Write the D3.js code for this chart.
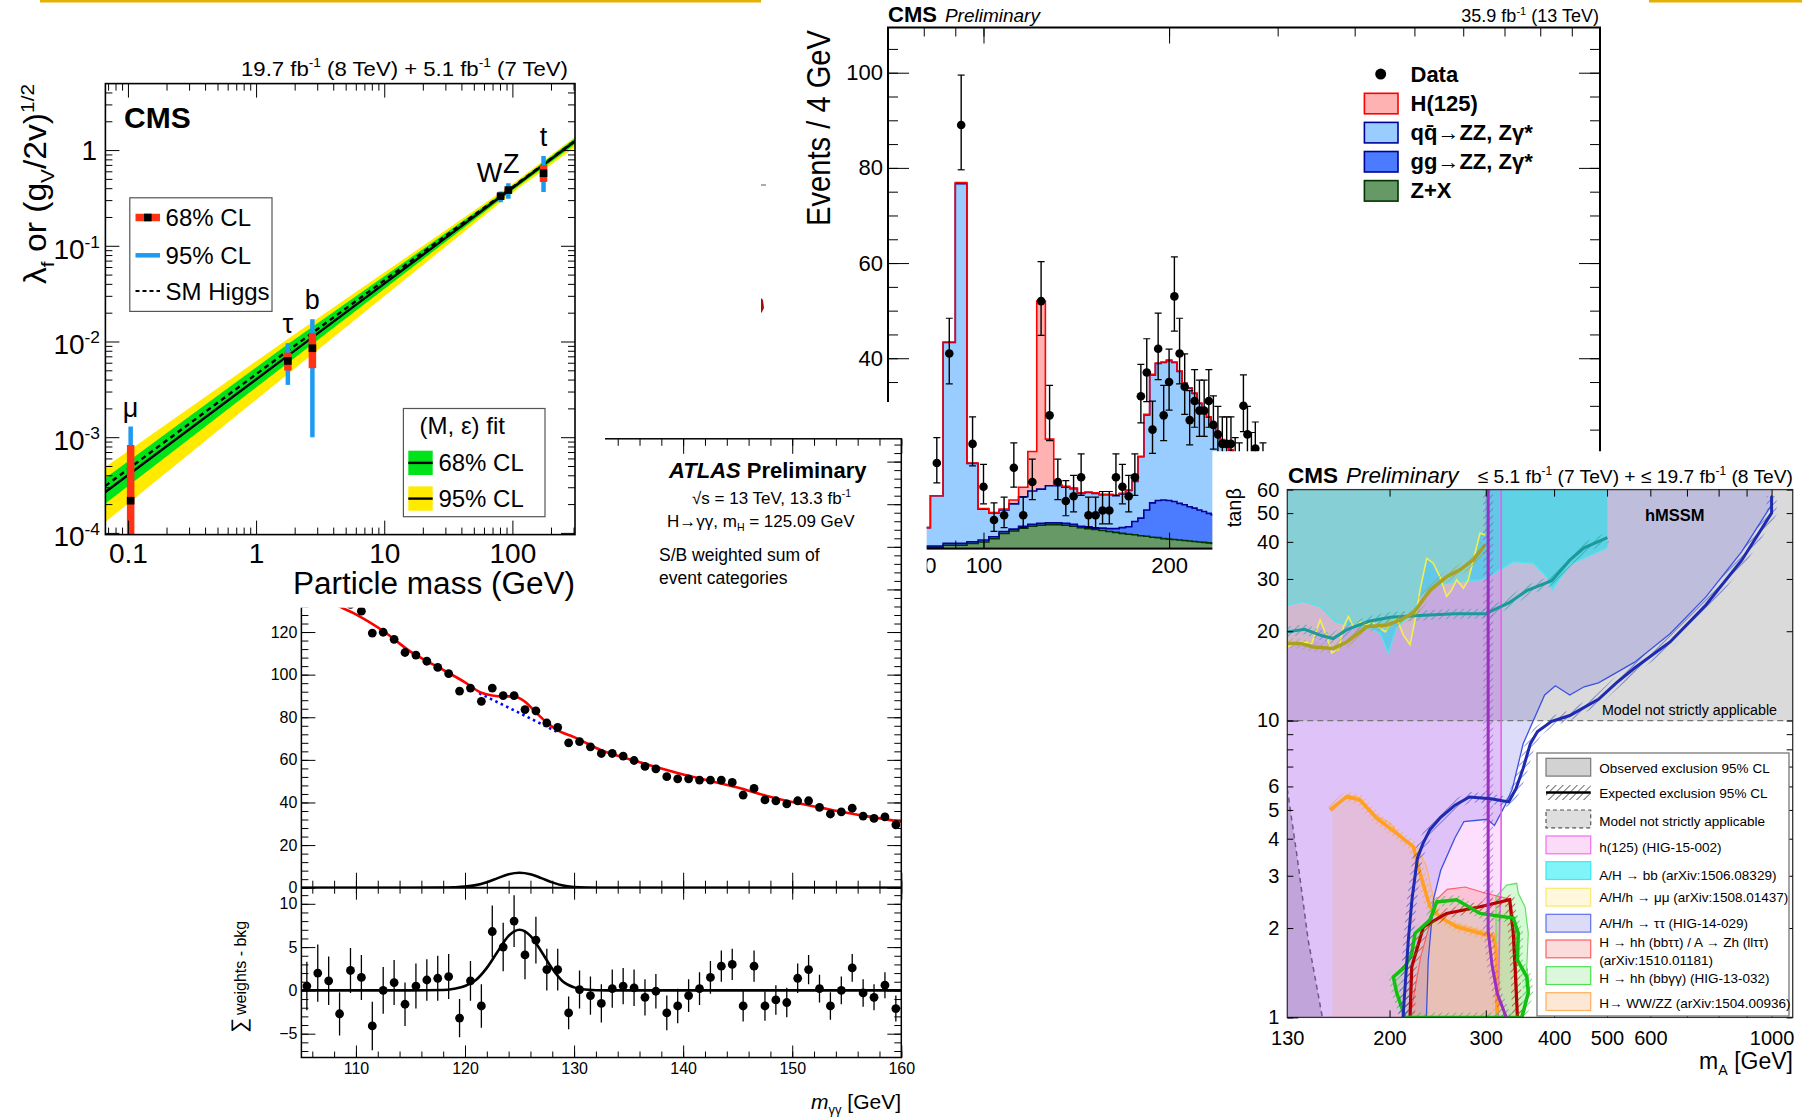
<!DOCTYPE html>
<html>
<head>
<meta charset="utf-8">
<script src="https://cdn.jsdelivr.net/npm/d3@7"></script>
<style>
body { margin: 0; background: #fff; }
text { font-family: "Liberation Sans", Arial, sans-serif; fill: #000; }
.narrow text { font-family: "Liberation Sans Narrow", "Liberation Sans", Arial, sans-serif; }
</style>
</head>
<body>
<svg id="chart" width="1802" height="1118"></svg>
<script>
// ---------- coupling vs particle mass (CMS 7+8 TeV) ----------
var cplName = ["μ", "τ", "b", "W", "Z", "t"];
var cplMass = [0.105, 1.77, 2.75, 80.9, 93, 175];
var cplVal = [2.17e-4, 6.26e-3, 8.5e-3, 0.330, 0.382, 0.572];
var cplLo68 = [9e-5, 4.97e-3, 5.26e-3, 0.315, 0.365, 0.465];
var cplHi68 = [8.3e-4, 7.65e-3, 1.22e-2, 0.345, 0.40, 0.697];
var cplLo95 = [8e-5, 3.52e-3, 9.98e-4, 0.285, 0.31, 0.365];
var cplHi95 = [1.29e-3, 9.6e-3, 1.71e-2, 0.37, 0.45, 0.866];
var bandMass = [0.0667, 1.73, 100, 308];
var fitLine = [2.68e-4, 6.95e-3, 0.402, 1.237];
var smLine = [3.1e-4, 7.83e-3, 0.41, 1.25];
var band95lo = [1.30e-4, 4.46e-3, 0.358, 1.07];
var band95hi = [4.89e-4, 1.04e-2, 0.441, 1.37];
var band68lo = [2.03e-4, 5.82e-3, 0.379, 1.154];
var band68hi = [3.75e-4, 9.18e-3, 0.421, 1.326];

// ---------- four-lepton mass (CMS 13 TeV) ----------
var zzEdges = [70,74,78,82,86,90,94,98,102,106,110,114,118,122,126,130,134,138,142,146,150,154,158,162,166,170,174,178,182,186,190,194,198,202,206,210,214,218,222,226,230,234,238,242,246,250,254,258];
var zzZX = [0.2,0.2,0.3,0.3,0.7,0.7,1.1,1.4,2.1,3.2,3.7,4.3,4.7,4.9,5.0,5.0,4.9,4.7,4.4,4.2,4.0,3.8,3.6,3.4,3.2,3.0,2.9,2.7,2.6,2.4,2.3,2.1,2.0,1.9,1.8,1.7,1.6,1.5,1.4,1.3,1.2,1.1,1.0,1.0,0.9,0.9,0.8];
var zzGG = [0.2,0.2,0.25,0.25,0.4,0.4,0.35,0.4,0.4,0.4,0.4,0.4,0.4,0.4,0.4,0.4,0.4,0.4,0.3,0.4,0.3,0.5,0.6,0.8,1.2,1.6,2.8,3.7,5.5,7.2,7.8,8.1,8.1,8.0,7.7,7.5,7.2,7.0,6.7,6.5,6.2,6.0,5.8,5.5,5.3,5.0,4.8];
var zzQQ = [2.6,3.2,3.85,10.55,42.2,75.6,16.45,6.5,5.0,4.5,5.3,6.2,7.0,7.2,7.8,7.8,7.6,7.5,6.9,7.2,7.3,7.0,7.1,6.9,7.1,7.6,8.4,12.9,20.0,26.9,28.8,28.9,29.4,29.2,27.7,25.5,24.9,24.1,22.4,21.3,20.2,18.5,17.3,16.3,15.6,14.8,14.2];
var zzH = [0,0,0,0,0.1,0.2,0.1,0.1,0.1,0.2,0.8,2.0,8.3,39.5,9.8,0.2,0.2,0.1,0.1,0.1,0.1,0.1,0.1,0.1,0.1,0.1,0.1,0.1,0.1,0.1,0.1,0.1,0.1,0.1,0.1,0.1,0.1,0.1,0.1,0.1,0.1,0.1,0.1,0.1,0.1,0.1,0.1];
var zzMass = [84,88,92,96,100,104,108,112,116,120,124,128,132,136,140,144,148,152,156,160,164,168,172,176,180,184,188,192,196,200,204,208,212,216,220,224,228,232,236,240,244,248,252,256,260,264,268,272,276,284];
var zzCount = [18,41,89,22,13,6,7,17,7,14,52,28,14,10,11,15,7,7,8,8,15,13,11,15,32,37,25,42,28,35,53,41,34,27,31,29,29,31,26,24,22,22,22,18,17,30,24,19,21,17];
var zzErrDn = [4.2,6.4,9.4,4.6,3.6,2.4,2.6,4.1,2.6,3.7,7.2,5.3,3.7,3.1,3.3,3.8,2.6,2.6,2.8,2.8,3.8,3.6,3.3,3.8,5.6,6.1,5.0,6.5,5.3,5.9,7.3,6.4,5.8,5.2,5.5,5.4,5.4,5.5,5.1,4.9,4.7,4.7,4.7,4.2,4.1,5.4,4.9,4.3,4.6,4.1];
var zzErrUp = [5.3,7.4,10.5,5.7,4.7,3.6,3.8,5.2,3.8,4.8,8.3,6.3,4.8,4.3,4.4,4.9,3.8,3.8,4.0,4.0,4.9,4.7,4.4,4.9,6.7,7.1,6.0,7.5,6.3,6.9,8.3,7.4,6.9,6.2,6.6,6.4,6.4,6.6,6.1,5.9,5.7,5.7,5.7,5.3,5.2,6.5,5.9,5.4,5.6,5.2];
var zzLegend = ["Data", "H(125)", "qq\u0304\u2192ZZ, Zγ*", "gg\u2192ZZ, Zγ*", "Z+X"];

// ---------- diphoton mass (ATLAS 13 TeV) ----------
var aMass = [105.5,106.5,107.5,108.5,109.5,110.5,111.5,112.5,113.5,114.5,115.5,116.5,117.5,118.5,119.5,120.5,121.5,122.5,123.5,124.5,125.5,126.5,127.5,128.5,129.5,130.5,131.5,132.5,133.5,134.5,135.5,136.5,137.5,138.5,139.5,140.5,141.5,142.5,143.5,144.5,145.5,146.5,147.5,148.5,149.5,150.5,151.5,152.5,153.5,154.5,155.5,156.5,157.5,158.5,159.5];
var aWeighted = [152,146,141,137,133,129.8,119.5,119.9,116.6,110.4,109.2,106.3,103.4,100.5,92.3,93.7,87.5,93.7,90.2,90.2,83.6,83.0,77.3,75.2,68.0,68.6,66.1,63.0,63.0,61.8,59.7,56.9,55.8,52.1,51.1,51.1,50.5,50.5,50.5,49.4,43.5,46.6,41.2,40.8,39.3,40.8,40.8,37.7,34.6,35.6,37.3,33.6,32.5,33.2,29.5];
var aResid = [0.5,2.0,1.1,-2.7,2.3,1.5,-4.1,0,0.9,-1.6,0.5,1.2,1.4,1.6,-3.2,1.1,-1.8,6.8,5.0,8.0,4.1,5.8,2.4,2.4,-2.6,0.1,-0.6,-1.5,0.2,0.5,0.3,-0.8,-0.1,-2.6,-1.8,-0.6,0.2,1.5,2.8,3.0,-1.8,2.8,-1.8,-1.1,-1.4,1.4,2.4,0.2,-1.8,0,2.6,-0.3,-0.8,0.6,-2.1];
var aResidErr = [2.8,3.3,2.8,2.5,2.6,2.6,2.8,2.7,2.6,2.5,2.6,2.4,2.6,2.6,2.2,2.3,2.5,3.0,2.8,3.0,2.8,2.7,2.4,2.4,1.9,2.2,2.2,2.2,2.2,2.1,2.1,2.1,2.0,2.0,2.0,1.9,1.9,1.9,1.8,1.8,1.8,1.8,1.7,1.7,1.7,1.7,1.7,1.6,1.6,1.6,1.6,1.6,1.5,1.5,1.5];
var aFit = [[105,149],[108,133.5],[110,128.3],[112.5,120.5],[115,110.8],[117.5,103.6],[120,96.4],[121.5,91.5],[122.5,90.2],[123.5,89.8],[124.5,89.8],[125.5,87.3],[126.5,82.3],[127.5,77.5],[128.5,73.8],[130,70.7],[132.5,64.5],[135,60.4],[137.5,56.7],[140,53.1],[142.5,50.1],[145,47.0],[147.5,43.3],[150,40.2],[152.5,37.7],[155,35.2],[157.5,33.0],[160,30.9]];
var aBkg = [[121.3,91.3],[125,82],[128.6,72.7]];
var aSignal = [[105,0],[115,0],[118,0.05],[119,0.2],[120,0.5],[121,1.2],[122,2.6],[123,4.5],[124,6.3],[125,7.0],[126,6.3],[127,4.5],[128,2.5],[129,1.0],[130,0.35],[131,0.1],[133,0],[160,0]];

// ---------- hMSSM exclusion (CMS 7+8 TeV) ----------
var hLowLeft = [[130,1],[130,5.89],[135.6,3.44],[141.9,1.83],[150.7,1]];
var ttObs = [[233.6,1],[235.4,1.56],[240.8,2.51],[248.1,3.13],[263.5,4.03],[273.6,4.57],[301.9,4.65],[311.1,4.43],[325.5,5.19],[335.5,5.89],[351.1,8.35],[367.4,10.1],[384.4,12.2],[402.2,13.1],[427.3,12.2],[453.8,13.0],[482.2,13.4],[520,14.5],[560.7,15.7],[652,19.6],[758.3,26.1],[881.9,37.1],[1000,53.3],[1000,57.5]];
var ttExp = [[211.7,1],[213.9,1.33],[216.5,1.83],[219.9,2.51],[224.9,3.44],[230.1,3.84],[237.1,4.29],[248.1,4.72],[263.5,5.19],[279.9,5.53],[306.5,5.45],[330.4,5.32],[340.6,5.89],[351.1,6.9],[361.9,8.35],[373,9.18],[396.1,9.94],[427.3,10.4],[482.2,11.8],[520,13.4],[560.7,15.0],[652,18.4],[758.3,24.5],[881.9,34.7],[1000,50.0],[1000,57]];
var h125Obs = [[320,60],[320,3],[318,2],[316,1]];
var h125Exp = [[303,60],[303,1.95],[308,1.5],[315,1.2],[327,1]];
var bbObs = [[130,24.5],[139.1,25.2],[149.3,24.2],[159.3,21.5],[167,21.0],[184.2,20.5],[192.2,19.7],[198.9,16.9],[206.1,20.7],[218,22.4],[227.4,26.2],[240.4,28.3],[261.7,29.4],[292.8,29.8],[303.2,30.5],[336.8,34.3],[366.4,33.9],[387.8,30.5],[397,27.6],[427.3,33.6],[500.6,38.2],[500.6,60]];
var bbExp = [[130,19.9],[139.8,20.3],[150.7,19.3],[157.7,18.9],[167.6,20.3],[183.4,21.6],[200.8,22.3],[226.6,22.6],[263.5,22.9],[299.6,22.9],[330.4,24.9],[356.5,27.4],[396.1,29.6],[427.3,34.7],[453.8,38.2],[500.6,41.3]];
var mmObs = [[130,17.7],[134.3,18.2],[139.1,18.4],[144.1,18.2],[149.3,21.8],[153.5,19.2],[156.8,16.9],[161.3,17.3],[164.7,20.7],[168.2,22.4],[171.7,20.7],[176.6,21.5],[181.6,21.0],[185.5,21.5],[190.7,20.7],[196.3,19.9],[201.8,21.3],[206.1,22.1],[212,19.4],[218,18.0],[222.7,21.8],[227.4,27.5],[233.9,35.2],[240.4,33.9],[247.3,30.5],[254.3,26.2],[259.7,27.5],[265.3,29.8],[272.9,27.9],[278.7,29.8],[284.7,34.8],[292.8,42.8],[299,42.2]];
var mmExp = [[130,18.2],[137.1,18.2],[145.1,17.7],[157.8,17.5],[167,18.4],[181.6,20.7],[197.9,21.0],[208.7,21.8],[221.1,23.0],[237.1,27.5],[254.3,30.5],[269,32.2],[284.7,34.8],[299,39.1]];
var wwObs = [[157.2,1],[157.2,5.03],[167.6,5.62],[175.3,5.53],[189.1,4.80],[200.8,4.50],[213.3,3.90],[224.9,3.72],[233.6,3.23],[242.6,2.35],[248.1,2.14],[271.6,2.04],[297.3,1.95],[311.1,1.91],[316.8,1.51],[318.3,1]];
var wwExp = [[155.6,5.0],[167,5.54],[176.6,5.40],[189.4,4.69],[206.1,4.17],[221.1,3.76],[227.4,3.06],[237.1,2.36],[247.3,2.18],[265.3,2.02],[292.8,1.92],[309.6,1.87],[313.2,1.69],[315,1.03]];
var hhObs = [[218,1],[228,1.6],[244,2.5],[255,2.7],[275,2.75],[300,2.62],[332,2.5],[340,2.0],[343,1]];
var hhExp = [[218,1.0],[219.6,1.48],[230.7,2.02],[254.3,2.24],[292.8,2.36],[331.8,2.49],[336.8,1.92],[339.3,1.48],[342.8,1.0]];
var aaObs = [[313.2,1],[313.2,2.55],[327.6,2.79],[341.8,2.83],[344,2.62],[353.9,2.36],[358.8,1.92],[356.5,1.48],[360.4,1.24],[351.3,1]];
var aaExp = [[213.5,1],[206.1,1.21],[203.2,1.37],[213.5,1.48],[219.6,1.64],[222.7,1.92],[237.1,2.13],[243.9,2.45],[265.3,2.49],[292.8,2.24],[336.8,2.16],[344,1.92],[342.8,1.56],[356.5,1.37],[358.8,1.21],[349,1]];
var hLegend = ["Observed exclusion 95% CL", "Expected exclusion 95% CL", "Model not strictly applicable",
  "h(125) (HIG-15-002)", "A/H \u2192 bb (arXiv:1506.08329)", "A/H/h \u2192 μμ (arXiv:1508.01437)",
  "A/H/h \u2192 ττ  (HIG-14-029)", "H \u2192 hh (bbττ) / A \u2192 Zh (llττ)", "H \u2192 hh (bbγγ) (HIG-13-032)",
  "H\u2192 WW/ZZ (arXiv:1504.00936)"];

var svg = d3.select("#chart");
var defs = svg.append("defs");

function axisTicks(g, scale, orient, pos, values, len, fmt, size, pad) {
  var make = {bottom: d3.axisBottom, top: d3.axisTop, left: d3.axisLeft, right: d3.axisRight}[orient];
  var axis = make(scale).tickValues(values).tickSizeInner(-len).tickSizeOuter(0)
      .tickPadding(pad == null ? 6 : pad)
      .tickFormat(fmt || function() { return ""; });
  var horiz = orient == "bottom" || orient == "top";
  var a = g.append("g")
      .attr("transform", horiz ? "translate(0," + pos + ")" : "translate(" + pos + ",0)")
      .call(axis)
      .attr("font-family", null).attr("font-size", null);
  a.select(".domain").remove();
  a.selectAll(".tick line").attr("stroke", "#000");
  a.selectAll(".tick text").attr("font-size", size || 12).attr("fill", "#000");
  if (!fmt) a.selectAll(".tick text").remove();
  return a;
}

function rich(g, x, y, parts, size, anchor) {
  var t = g.append("text").attr("x", x).attr("y", y).attr("font-size", size)
      .attr("text-anchor", anchor || "start");
  var shift = 0;
  parts.forEach(function(p) {
    var s = typeof p == "string" ? {t: p} : p;
    var target = s.sup ? -0.4 * size : s.sub ? 0.25 * size : 0;
    var ts = t.append("tspan").text(s.t).attr("dy", target - shift);
    if (s.sup || s.sub) ts.attr("font-size", size * 0.62);
    if (s.b) ts.attr("font-weight", "bold");
    if (s.i) ts.attr("font-style", "italic");
    shift = target;
  });
  return t;
}

// ================= four-lepton panel =================
defs.append("clipPath").attr("id", "clip4l").append("path")
    .attr("d", "M740,0H1612V451.5H1212.6V590H926.7V402H740Z");
var p2 = svg.append("g").attr("class", "narrow").attr("clip-path", "url(#clip4l)");
var zx = d3.scaleLog().domain([70, 1000]).range([888, 1600]);
var zy = d3.scaleLinear().domain([0, 109.5]).range([548.6, 27.5]);

var rows = zzEdges.map(function(e, i) {
  var j = Math.min(i, zzZX.length - 1);
  return {lo: e, zx: zzZX[j], gg: zzGG[j], qq: zzQQ[j], h: zzH[j]};
});
var layers = d3.stack().keys(["zx", "gg", "qq", "h"])(rows);
var zzFill = {zx: "#669966", gg: "#4b7bff", qq: "#99ccff", h: "#ffb2b2"};
var zzLine = {zx: "#003300", gg: "#000099", qq: "#000099", h: "#ff0000"};
layers.forEach(function(L) {
  p2.append("path").datum(L)
    .attr("fill", zzFill[L.key])
    .attr("d", d3.area().curve(d3.curveStepAfter)
      .x(function(d) { return zx(d.data.lo); })
      .y0(function(d) { return zy(d[0]); })
      .y1(function(d) { return zy(d[1]); }));
});
layers.forEach(function(L) {
  p2.append("path").datum(L)
    .attr("fill", "none").attr("stroke", zzLine[L.key]).attr("stroke-width", 1.6)
    .attr("d", d3.line().curve(d3.curveStepAfter)
      .x(function(d) { return zx(d.data.lo); })
      .y(function(d) { return zy(d[1]); }));
});

// data points
zzMass.forEach(function(m, i) {
  var x = zx(m);
  var y1 = zy(zzCount[i] + zzErrUp[i]), y0 = zy(zzCount[i] - zzErrDn[i]);
  p2.append("line").attr("x1", x).attr("x2", x).attr("y1", y1).attr("y2", y0)
    .attr("stroke", "#000").attr("stroke-width", 1.4);
  p2.append("line").attr("x1", x - 3.5).attr("x2", x + 3.5).attr("y1", y1).attr("y2", y1)
    .attr("stroke", "#000").attr("stroke-width", 1.2);
  p2.append("line").attr("x1", x - 3.5).attr("x2", x + 3.5).attr("y1", y0).attr("y2", y0)
    .attr("stroke", "#000").attr("stroke-width", 1.2);
  p2.append("circle").attr("cx", x).attr("cy", zy(zzCount[i])).attr("r", 4.3).attr("fill", "#000");
});

p2.append("rect").attr("x", 888).attr("y", 27.5).attr("width", 712).attr("height", 521.1)
  .attr("fill", "none").attr("stroke", "#000").attr("stroke-width", 2);
var zMajor = [0, 20, 40, 60, 80, 100];
var zMinor = d3.range(0, 110, 5);
axisTicks(p2, zy, "left", 888, zMinor, 10);
axisTicks(p2, zy, "right", 1600, zMinor, 10);
axisTicks(p2, zy, "left", 888, zMajor, 21);
axisTicks(p2, zy, "left", 888, [40, 60, 80, 100], 0, function(d) { return d; }, 22, 5);
axisTicks(p2, zy, "right", 1600, zMajor, 21);
var zxAll = zx.ticks();
axisTicks(p2, zx, "top", 27.5, zxAll, 9);
axisTicks(p2, zx, "bottom", 548.6, zxAll, 8);
axisTicks(p2, zx, "top", 27.5, [100, 200], 16);
axisTicks(p2, zx, "bottom", 548.6, [100, 200], 16);
axisTicks(p2, zx, "bottom", 548.6, [80, 100, 200], 0, function(d) { return d; }, 22, 9);

// legend
p2.append("circle").attr("cx", 1380.7).attr("cy", 74.1).attr("r", 5.5).attr("fill", "#000");
var legKeys = ["h", "qq", "gg", "zx"];
legKeys.forEach(function(k, i) {
  p2.append("rect").attr("x", 1364.4).attr("y", 93.3 + i * 29.1).attr("width", 33.6).attr("height", 20.5)
    .attr("fill", zzFill[k]).attr("stroke", zzLine[k]).attr("stroke-width", 1.6);
});
zzLegend.forEach(function(s, i) {
  p2.append("text").attr("x", 1410.5).attr("y", 81.5 + i * 29.1).attr("font-size", 22)
    .attr("font-weight", "bold").text(s);
});
p2.append("text").attr("transform", "translate(830,30) rotate(-90)").attr("text-anchor", "end")
  .attr("font-size", 33).attr("textLength", 196).attr("lengthAdjust", "spacingAndGlyphs").text("Events / 4 GeV");
var t4 = p2.append("text").attr("x", 888).attr("y", 21.8).attr("font-size", 22);
t4.append("tspan").attr("font-weight", "bold").text("CMS");
t4.append("tspan").attr("font-style", "italic").attr("dx", 8).attr("font-size", 19).text("Preliminary");
rich(p2, 1599, 21.8, ["35.9 fb", {t: "-1", sup: true}, " (13 TeV)"], 18, "end");

// ================= ATLAS diphoton panel =================
var p3 = svg.append("g");
p3.append("rect").attr("x", 200).attr("y", 432).attr("width", 712).attr("height", 686).attr("fill", "#fff");
var ax = d3.scaleLinear().domain([105, 160]).range([301.4, 901.3]);
var ayT = d3.scaleLinear().domain([0, 210.7]).range([887.7, 438.8]);
var ayB = d3.scaleLinear().domain([-7.75, 11.86]).range([1057.5, 887.7]);
defs.append("clipPath").attr("id", "clipAtop").append("rect")
  .attr("x", 301.4).attr("y", 438.8).attr("width", 599.9).attr("height", 448.9);
defs.append("clipPath").attr("id", "clipAbot").append("rect")
  .attr("x", 301.4).attr("y", 887.7).attr("width", 599.9).attr("height", 169.8);

var topG = p3.append("g").attr("clip-path", "url(#clipAtop)");
var botG = p3.append("g").attr("clip-path", "url(#clipAbot)");
topG.append("path").datum(aBkg).attr("fill", "none").attr("stroke", "#0000ff").attr("stroke-width", 2.6)
  .attr("stroke-dasharray", "2.5,3.5")
  .attr("d", d3.line().x(function(d) { return ax(d[0]); }).y(function(d) { return ayT(d[1]); }));
topG.append("path").datum(aFit).attr("fill", "none").attr("stroke", "#ff0000").attr("stroke-width", 2.6)
  .attr("d", d3.line().curve(d3.curveMonotoneX).x(function(d) { return ax(d[0]); }).y(function(d) { return ayT(d[1]); }));
topG.append("path").datum(aSignal).attr("fill", "none").attr("stroke", "#000").attr("stroke-width", 2.6)
  .attr("d", d3.line().curve(d3.curveMonotoneX).x(function(d) { return ax(d[0]); }).y(function(d) { return ayT(d[1]); }));
aMass.forEach(function(m, i) {
  topG.append("circle").attr("cx", ax(m)).attr("cy", ayT(aWeighted[i])).attr("r", 4.4).attr("fill", "#000");
});
botG.append("path").datum(aSignal).attr("fill", "none").attr("stroke", "#000").attr("stroke-width", 2.6)
  .attr("d", d3.line().curve(d3.curveMonotoneX).x(function(d) { return ax(d[0]); }).y(function(d) { return ayB(d[1]); }));
aMass.forEach(function(m, i) {
  botG.append("line").attr("x1", ax(m)).attr("x2", ax(m))
    .attr("y1", ayB(aResid[i] + aResidErr[i])).attr("y2", ayB(aResid[i] - aResidErr[i]))
    .attr("stroke", "#000").attr("stroke-width", 1.3);
  botG.append("circle").attr("cx", ax(m)).attr("cy", ayB(aResid[i])).attr("r", 4.4).attr("fill", "#000");
});

p3.append("rect").attr("x", 301.4).attr("y", 438.8).attr("width", 599.9).attr("height", 618.7)
  .attr("fill", "none").attr("stroke", "#000").attr("stroke-width", 1.5);
p3.append("line").attr("x1", 301.4).attr("x2", 901.3).attr("y1", 887.7).attr("y2", 887.7)
  .attr("stroke", "#000").attr("stroke-width", 2);
var axMinor = d3.range(106, 161, 2), axMajor = [110, 120, 130, 140, 150, 160];
axisTicks(p3, ax, "top", 438.8, axMinor, 7);
axisTicks(p3, ax, "top", 438.8, axMajor, 15);
axisTicks(p3, ax, "bottom", 887.7, axMinor, 7);
axisTicks(p3, ax, "bottom", 887.7, axMajor, 15);
axisTicks(p3, ax, "top", 887.7, axMinor, 6);
axisTicks(p3, ax, "top", 887.7, axMajor, 12);
axisTicks(p3, ax, "bottom", 1057.5, axMinor, 6);
axisTicks(p3, ax, "bottom", 1057.5, axMajor, 12, function(d) { return d; }, 16, 5);
var ayTMinor = d3.range(0, 211, 4), ayTMajor = d3.range(0, 201, 20);
axisTicks(p3, ayT, "left", 301.4, ayTMinor, 7);
axisTicks(p3, ayT, "left", 301.4, ayTMajor, 14);
axisTicks(p3, ayT, "left", 301.4, [0, 20, 40, 60, 80, 100, 120], 0, function(d) { return d; }, 16, 4);
axisTicks(p3, ayT, "right", 901.3, ayTMinor, 7);
axisTicks(p3, ayT, "right", 901.3, ayTMajor, 14);
var ayBMinor = d3.range(-7, 12, 1), ayBMajor = [-5, 0, 5, 10];
axisTicks(p3, ayB, "left", 301.4, ayBMinor, 7);
axisTicks(p3, ayB, "left", 301.4, ayBMajor, 14, function(d) { return d < 0 ? "\u2212" + (-d) : d; }, 16, 4);
axisTicks(p3, ayB, "right", 901.3, ayBMinor, 7);
axisTicks(p3, ayB, "right", 901.3, ayBMajor, 14);

var at = p3.append("text").attr("x", 669).attr("y", 478).attr("font-size", 22).attr("font-weight", "bold");
at.append("tspan").attr("font-style", "italic").text("ATLAS");
at.append("tspan").attr("dx", 6).text("Preliminary");
rich(p3, 692, 504, ["\u221As = 13 TeV, 13.3 fb", {t: "-1", sup: true}], 17);
rich(p3, 667, 527, ["H\u2192γγ, m", {t: "H", sub: true}, " = 125.09 GeV"], 17);
p3.append("text").attr("x", 659).attr("y", 561).attr("font-size", 17.5).text("S/B weighted sum of");
p3.append("text").attr("x", 659).attr("y", 584).attr("font-size", 17.5).text("event categories");
rich(p3, 901, 1109, [{t: "m", i: true}, {t: "γγ", sub: true}, " [GeV]"], 21, "end");
var ylab = p3.append("text").attr("transform", "translate(246,1033) rotate(-90)").attr("font-size", 16);
ylab.append("tspan").attr("font-size", 21).text("\u2211");
ylab.append("tspan").attr("dx", 3).text("weights - bkg");

// ================= coupling panel =================
var p1 = svg.append("g");
p1.append("rect").attr("x", 0).attr("y", 0).attr("width", 605).attr("height", 607.7).attr("fill", "#fff");
var cx = d3.scaleLog().domain([0.0667, 308]).range([105.4, 575]);
var cy = d3.scaleLog().domain([9.6e-5, 4.95]).range([534.6, 83.6]);
defs.append("clipPath").attr("id", "clipCpl").append("rect")
  .attr("x", 105.4).attr("y", 83.6).attr("width", 469.6).attr("height", 451);
var cg = p1.append("g").attr("clip-path", "url(#clipCpl)");
var bandRows = bandMass.map(function(m, i) {
  return {m: m, lo95: band95lo[i], hi95: band95hi[i], lo68: band68lo[i], hi68: band68hi[i], fit: fitLine[i], sm: smLine[i]};
});
function bandArea(lo, hi) {
  return d3.area().x(function(d) { return cx(d.m); })
    .y0(function(d) { return cy(d[lo]); }).y1(function(d) { return cy(d[hi]); });
}
cg.append("path").datum(bandRows).attr("fill", "#ffea00").attr("d", bandArea("lo95", "hi95"));
cg.append("path").datum(bandRows).attr("fill", "#00e31a").attr("d", bandArea("lo68", "hi68"));
cg.append("path").datum(bandRows).attr("fill", "none").attr("stroke", "#000").attr("stroke-width", 2.4)
  .attr("d", d3.line().x(function(d) { return cx(d.m); }).y(function(d) { return cy(d.fit); }));
cg.append("path").datum(bandRows).attr("fill", "none").attr("stroke", "#000").attr("stroke-width", 2.4)
  .attr("stroke-dasharray", "5,4")
  .attr("d", d3.line().x(function(d) { return cx(d.m); }).y(function(d) { return cy(d.sm); }));
cplMass.forEach(function(m, i) {
  var x = cx(m);
  cg.append("line").attr("x1", x).attr("x2", x).attr("y1", cy(cplLo95[i])).attr("y2", cy(cplHi95[i]))
    .attr("stroke", "#1e9bf0").attr("stroke-width", 4.5);
  cg.append("line").attr("x1", x).attr("x2", x).attr("y1", cy(cplLo68[i])).attr("y2", cy(cplHi68[i]))
    .attr("stroke", "#ff3215").attr("stroke-width", 7.5);
  cg.append("rect").attr("x", x - 3.8).attr("y", cy(cplVal[i]) - 3.8).attr("width", 7.6).attr("height", 7.6).attr("fill", "#000");
  var lx = cplName[i] == "W" ? x - 11 : cplName[i] == "Z" ? x + 3 : x;
  var ly = cy(cplHi95[i]) - (cplName[i] == "W" ? 9 : 10);
  p1.append("text").attr("x", lx).attr("y", ly).attr("text-anchor", "middle").attr("font-size", 27).text(cplName[i]);
});
p1.append("rect").attr("x", 105.4).attr("y", 83.6).attr("width", 469.6).attr("height", 451)
  .attr("fill", "none").attr("stroke", "#000").attr("stroke-width", 1.6);
var cxMajor = [0.1, 1, 10, 100];
var cxMinor = cx.ticks().filter(function(v) { return cxMajor.indexOf(v) < 0; });
axisTicks(p1, cx, "bottom", 534.6, cxMinor, 7);
axisTicks(p1, cx, "top", 83.6, cxMinor, 7);
axisTicks(p1, cx, "bottom", 534.6, cxMajor, 14, function(d) { return d; }, 28, 9);
axisTicks(p1, cx, "top", 83.6, cxMajor, 14);
var cyMajor = [1e-4, 1e-3, 1e-2, 1e-1, 1];
var cyMinor = cy.ticks().filter(function(v) { return cyMajor.indexOf(v) < 0; });
axisTicks(p1, cy, "left", 105.4, cyMinor, 7);
axisTicks(p1, cy, "right", 575, cyMinor, 7);
axisTicks(p1, cy, "left", 105.4, cyMajor, 14);
axisTicks(p1, cy, "right", 575, cyMajor, 14);
cyMajor.forEach(function(v) {
  var e = Math.round(Math.log10(v));
  if (e == 0) p1.append("text").attr("x", 97).attr("y", cy(v) + 10).attr("text-anchor", "end").attr("font-size", 28).text("1");
  else rich(p1, 100, cy(v) + 13, ["10", {t: String(e), sup: true}], 28, "end");
});
rich(p1, 568, 75.7, ["19.7 fb", {t: "-1", sup: true}, " (8 TeV) +  5.1 fb", {t: "-1", sup: true}, " (7 TeV)"], 21, "end")
  .attr("textLength", 327).attr("lengthAdjust", "spacingAndGlyphs");
p1.append("text").attr("x", 124).attr("y", 127.5).attr("font-size", 30).attr("font-weight", "bold").text("CMS");
p1.append("text").attr("x", 575).attr("y", 594).attr("text-anchor", "end").attr("font-size", 31)
  .attr("textLength", 282).attr("lengthAdjust", "spacingAndGlyphs").text("Particle mass (GeV)");
var cyl = rich(p1, 0, 0, ["λ", {t: "f", sub: true}, " or (g", {t: "V", sub: true}, "/2v)", {t: "1/2", sup: true}], 31, "end");
cyl.attr("transform", "translate(46,84) rotate(-90)").attr("textLength", 200).attr("lengthAdjust", "spacingAndGlyphs");

// legends
p1.append("rect").attr("x", 129.8).attr("y", 197.8).attr("width", 142.2).attr("height", 113.6)
  .attr("fill", "#fff").attr("stroke", "#555").attr("stroke-width", 1.2);
p1.append("line").attr("x1", 135.5).attr("x2", 160).attr("y1", 217.5).attr("y2", 217.5).attr("stroke", "#ff3215").attr("stroke-width", 7.5);
p1.append("rect").attr("x", 144).attr("y", 213.7).attr("width", 7.6).attr("height", 7.6).attr("fill", "#000");
p1.append("line").attr("x1", 135.5).attr("x2", 160).attr("y1", 255.3).attr("y2", 255.3).attr("stroke", "#1e9bf0").attr("stroke-width", 4.5);
p1.append("line").attr("x1", 135.5).attr("x2", 160).attr("y1", 291).attr("y2", 291).attr("stroke", "#000").attr("stroke-width", 2.2).attr("stroke-dasharray", "4,3");
p1.append("text").attr("x", 165.6).attr("y", 226).attr("font-size", 24).text("68% CL");
p1.append("text").attr("x", 165.6).attr("y", 263.8).attr("font-size", 24).text("95% CL");
p1.append("text").attr("x", 165.6).attr("y", 299.5).attr("font-size", 24).text("SM Higgs");

p1.append("rect").attr("x", 403.4).attr("y", 408.5).attr("width", 141.6).attr("height", 108.2)
  .attr("fill", "#fff").attr("stroke", "#555").attr("stroke-width", 1.2);
p1.append("text").attr("x", 419.6).attr("y", 434).attr("font-size", 24).text("(M, ε) fit");
[["#00e31a", 450.7, "68% CL"], ["#ffea00", 486.4, "95% CL"]].forEach(function(r) {
  p1.append("rect").attr("x", 408.3).attr("y", r[1]).attr("width", 24.4).attr("height", 24.3).attr("fill", r[0]);
  p1.append("line").attr("x1", 408.3).attr("x2", 432.7).attr("y1", r[1] + 12.2).attr("y2", r[1] + 12.2).attr("stroke", "#000").attr("stroke-width", 2.4);
  p1.append("text").attr("x", 438.4).attr("y", r[1] + 20.5).attr("font-size", 24).text(r[2]);
});

// ================= hMSSM panel =================
var p4 = svg.append("g");
p4.append("rect").attr("x", 1212.6).attr("y", 451.5).attr("width", 590).attr("height", 667).attr("fill", "#fff");
var hx = d3.scaleLog().domain([130, 1093]).range([1287.3, 1792.7]);
var hy = d3.scaleLog().domain([1, 60]).range([1017.4, 489.6]);
defs.append("clipPath").attr("id", "clipH").append("rect")
  .attr("x", 1287.3).attr("y", 489.6).attr("width", 505.4).attr("height", 527.8);
var hg = p4.append("g").attr("clip-path", "url(#clipH)");
var hl = d3.line().x(function(d) { return hx(d[0]); }).y(function(d) { return hy(d[1]); });

function hatch(id, color) {
  defs.append("pattern").attr("id", id).attr("patternUnits", "userSpaceOnUse")
    .attr("width", 5).attr("height", 5).attr("patternTransform", "rotate(45)")
    .append("line").attr("x1", 0).attr("y1", 0).attr("x2", 0).attr("y2", 5)
    .attr("stroke", color).attr("stroke-width", 1.3);
}
hatch("hBlue", "#2a3cc0"); hatch("hTeal", "#1a9a9a"); hatch("hOlive", "#a8a030");
hatch("hPurple", "#9a3cbf"); hatch("hOrange", "#ff9a30"); hatch("hRed", "#b00000");
hatch("hGreen", "#18b818"); hatch("hBlack", "#222");

// grey: model not strictly applicable
hg.append("rect").attr("x", hx(130)).attr("y", hy(60)).attr("width", hx(1093) - hx(130))
  .attr("height", hy(10) - hy(60)).attr("fill", "#dadada");
hg.append("path").attr("d", hl(hLowLeft) + "Z").attr("fill", "#d2d2d2");
// filled exclusions
hg.append("path").attr("d", hl(ttObs.concat([[1000, 60], [130, 60], [130, 1]])) + "Z").attr("fill", "rgba(80,80,230,0.2)");
hg.append("path").attr("d", hl([[130, 1], [130, 60]].concat(h125Obs)) + "Z").attr("fill", "rgba(240,80,240,0.18)");
hg.append("path").attr("d", hl(bbObs.concat([[130, 60]])) + "Z").attr("fill", "rgba(0,230,240,0.5)");
hg.append("path").attr("d", hl(mmObs.concat([[299, 60], [130, 60]])) + "Z").attr("fill", "rgba(255,235,150,0.22)");
hg.append("path").attr("d", hl(wwObs) + "Z").attr("fill", "rgba(255,170,80,0.16)");
hg.append("path").attr("d", hl(hhObs) + "Z").attr("fill", "rgba(255,90,90,0.22)");
hg.append("path").attr("d", hl(aaExp) + "Z").attr("fill", "rgba(90,230,90,0.12)");
hg.append("path").attr("d", hl(aaObs) + "Z").attr("fill", "rgba(90,230,90,0.25)").attr("stroke", "#66e066").attr("stroke-width", 1.2);
// dashed boundaries
hg.append("line").attr("x1", hx(130)).attr("x2", hx(1093)).attr("y1", hy(10)).attr("y2", hy(10))
  .attr("stroke", "#777").attr("stroke-width", 1.3).attr("stroke-dasharray", "6,4");
hg.append("path").attr("d", hl(hLowLeft.slice(1))).attr("fill", "none")
  .attr("stroke", "#6a5a8a").attr("stroke-width", 1.5).attr("stroke-dasharray", "5,4");
// expected (hatched) and observed lines
function expLine(pts, pat, color, w) {
  hg.append("path").attr("d", hl(pts)).attr("fill", "none").attr("stroke", "url(#" + pat + ")").attr("stroke-width", 10).attr("opacity", 0.85);
  hg.append("path").attr("d", hl(pts)).attr("fill", "none").attr("stroke", color).attr("stroke-width", w);
}
function obsLine(pts, color, w) {
  hg.append("path").attr("d", hl(pts)).attr("fill", "none").attr("stroke", color).attr("stroke-width", w);
}
obsLine(bbObs.slice(0, -1), "#4ee6ee", 1.2);
obsLine(mmObs, "#f2f04a", 1.6);
obsLine(wwObs.slice(1, -1), "#ffb060", 1.2);
obsLine(hhObs, "#ff6060", 1.2);
obsLine(ttObs, "#3c50e6", 1.3);
obsLine(h125Obs, "#e860e8", 1.6);
expLine(bbExp, "hTeal", "#1a9a9a", 3);
expLine(mmExp, "hOlive", "#aaa024", 3.5);
expLine(wwExp, "hOrange", "#ffa020", 3.5);
expLine(hhExp, "hRed", "#b40000", 3.2);
expLine(aaExp.concat([aaExp[0]]), "hGreen", "#12c012", 3.5);
expLine(h125Exp, "hPurple", "#9830c0", 3);
expLine(ttExp, "hBlue", "#1e2ab0", 3);

p4.append("rect").attr("x", 1287.3).attr("y", 489.6).attr("width", 505.4).attr("height", 527.8)
  .attr("fill", "none").attr("stroke", "#333").attr("stroke-width", 1.3);
var hyAll = hy.ticks();
axisTicks(p4, hy, "left", 1287.3, hyAll, 6);
axisTicks(p4, hy, "left", 1287.3, [1, 10], 11);
axisTicks(p4, hy, "right", 1792.7, hyAll, 6);
axisTicks(p4, hy, "left", 1287.3, [1, 2, 3, 4, 5, 6, 10, 20, 30, 40, 50, 60], 0, function(d) { return d; }, 20, 8);
var hxAll = hx.ticks().filter(function(v) { return v >= 130; });
axisTicks(p4, hx, "bottom", 1017.4, hxAll, 7);
axisTicks(p4, hx, "top", 489.6, hxAll, 7);
axisTicks(p4, hx, "bottom", 1017.4, [130, 200, 300, 400, 500, 600, 1000], 0, function(d) { return d; }, 20, 13);
rich(p4, 1793, 1069, ["m", {t: "A", sub: true}, " [GeV]"], 23, "end");
p4.append("text").attr("transform", "translate(1241,488) rotate(-90)").attr("text-anchor", "end")
  .attr("font-size", 20).text("tanβ");
var ht = p4.append("text").attr("x", 1288).attr("y", 482.7).attr("font-size", 22.5);
ht.append("tspan").attr("font-weight", "bold").text("CMS");
ht.append("tspan").attr("font-style", "italic").attr("dx", 8).text("Preliminary");
rich(p4, 1793, 482.7, ["\u2264 5.1 fb", {t: "-1", sup: true}, " (7 TeV) + \u2264 19.7 fb", {t: "-1", sup: true}, " (8 TeV)"], 19.2, "end");
p4.append("text").attr("x", 1645).attr("y", 521.4).attr("font-size", 16.5).attr("font-weight", "bold").text("hMSSM");
p4.append("text").attr("x", 1602).attr("y", 715).attr("font-size", 14).attr("textLength", 175)
  .attr("lengthAdjust", "spacingAndGlyphs").text("Model not strictly applicable");

// hMSSM legend
p4.append("rect").attr("x", 1537).attr("y", 753).attr("width", 252).attr("height", 263)
  .attr("fill", "#fff").attr("stroke", "#777").attr("stroke-width", 1.3);
var hSwFill = ["#d2d2d2", "none", "#dedede", "#fadcf7", "#80f4f8", "#fff8dc", "#dcdcf8", "#fadcdc", "#dcf8dc", "#fde8d6"];
var hSwLine = ["#777", "none", "#555", "#f070f0", "#40e8f0", "#f8e870", "#6070e8", "#ff6060", "#50e050", "#ffb060"];
var hSwY = [758.3, 785, 810, 836, 861.7, 888.3, 914.3, 940, 966.7, 992.7];
var hTxY = [773, 798, 825.5, 852, 880, 901.5, 928, 946.5, 983, 1008];
hLegend.forEach(function(s, i) {
  if (i == 1) {
    p4.append("rect").attr("x", 1546).attr("y", hSwY[i]).attr("width", 44.7).attr("height", 15).attr("fill", "url(#hBlack)");
    p4.append("line").attr("x1", 1546).attr("x2", 1590.7).attr("y1", hSwY[i] + 7.5).attr("y2", hSwY[i] + 7.5)
      .attr("stroke", "#000").attr("stroke-width", 2.5);
  } else {
    p4.append("rect").attr("x", 1546).attr("y", hSwY[i]).attr("width", 44.7).attr("height", 17.8)
      .attr("fill", hSwFill[i]).attr("stroke", hSwLine[i]).attr("stroke-width", 1.2)
      .attr("stroke-dasharray", i == 2 ? "4,3" : null);
  }
  p4.append("text").attr("x", 1599.3).attr("y", hTxY[i]).attr("font-size", 13.5).attr("fill", "#222").text(s);
});
p4.append("text").attr("x", 1599.3).attr("y", 965).attr("font-size", 13.5).attr("fill", "#222").text("(arXiv:1510.01181)");

// ================= page decorations =================
svg.append("rect").attr("x", 40).attr("y", 0).attr("width", 721).attr("height", 2.5).attr("fill", "#e6b000");
svg.append("rect").attr("x", 1649).attr("y", 0).attr("width", 153).attr("height", 2.5).attr("fill", "#e6b000");
svg.append("rect").attr("x", 761).attr("y", 184).attr("width", 5).attr("height", 2).attr("fill", "#aaa");
svg.append("path").attr("d", "M761,298 L763,300 L764,308 L762,312 L761,313 Z").attr("fill", "#a01010");
</script>
</body>
</html>
